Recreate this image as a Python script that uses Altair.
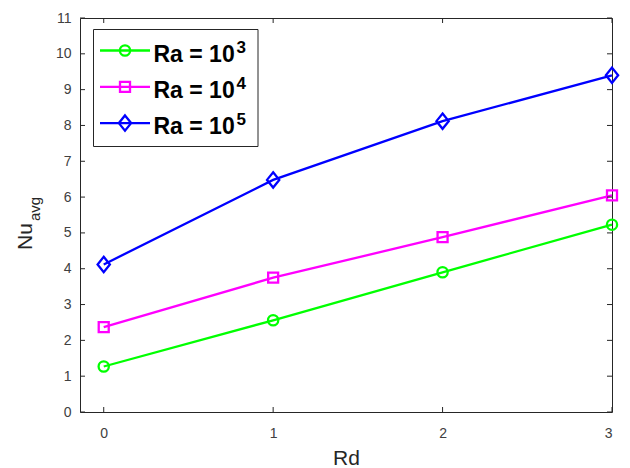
import altair as alt
import pandas as pd

# ---------------- data ----------------
rd = [0, 1, 2, 3]
series_names = ["Ra = 10³", "Ra = 10⁴", "Ra = 10⁵"]
nu_ra3 = [1.27, 2.56, 3.90, 5.23]
nu_ra4 = [2.37, 3.75, 4.88, 6.05]
nu_ra5 = [4.12, 6.48, 8.12, 9.40]
series_colors = ["#00ff00", "#ff00ff", "#0000ff"]
x_ticks = [0, 1, 2, 3]
y_ticks = [0, 1, 2, 3, 4, 5, 6, 7, 8, 9, 10, 11]
legend_base = ["Ra = 10", "Ra = 10", "Ra = 10"]
legend_exp = ["3", "4", "5"]

DIAMOND = "M0,-1L0.8,0L0,1L-0.8,0Z"
marker_shapes = ["circle", "square", DIAMOND]
marker_sizes = [105, 100, 235]

rows = []
for name, vals in zip(series_names, [nu_ra3, nu_ra4, nu_ra5]):
    for x, v in zip(rd, vals):
        rows.append({"Rd": x, "Nu": v, "series": name})
df = pd.DataFrame(rows)

W, H = 532, 394
AX = "#262626"
FONT = "Liberation Sans"
LW = 2.3

xscale = alt.Scale(domain=[-0.14, 3.0], nice=False, zero=False)
yscale = alt.Scale(domain=[0, 11], nice=False, zero=False)
cscale = alt.Scale(domain=series_names, range=series_colors)
xaxis = alt.Axis(values=x_ticks, title="Rd", format="d")
yaxis = alt.Axis(values=y_ticks, title=None, format="d")


def X(field):
    return alt.X(field, scale=xscale, axis=xaxis)


def Y(field):
    return alt.Y(field, scale=yscale, axis=yaxis)


base = alt.Chart(df)

lines = base.mark_line(strokeWidth=LW).encode(
    x=X("Rd:Q"),
    y=Y("Nu:Q"),
    color=alt.Color("series:N", scale=cscale, legend=None),
    detail="series:N",
)

point_layers = []
for name, shp, sz in zip(series_names, marker_shapes, marker_sizes):
    point_layers.append(
        base.transform_filter(alt.datum.series == name)
        .mark_point(shape=shp, filled=False, size=sz, strokeWidth=LW, opacity=1)
        .encode(
            x=X("Rd:Q"),
            y=Y("Nu:Q"),
            color=alt.Color("series:N", scale=cscale, legend=None),
        )
    )

# inward tick marks (MATLAB style box axes); same field names so axes merge
xt = alt.Chart(pd.DataFrame({"Rd": x_ticks}))
yt = alt.Chart(pd.DataFrame({"Nu": y_ticks}))
TL = 5
tick_layers = [
    xt.mark_rule(color=AX, strokeWidth=1).encode(
        x=X("Rd:Q"), y=alt.value(H), y2=alt.value(H - TL)),
    xt.mark_rule(color=AX, strokeWidth=1).encode(
        x=X("Rd:Q"), y=alt.value(0), y2=alt.value(TL)),
    yt.mark_rule(color=AX, strokeWidth=1).encode(
        y=Y("Nu:Q"), x=alt.value(0), x2=alt.value(TL)),
    yt.mark_rule(color=AX, strokeWidth=1).encode(
        y=Y("Nu:Q"), x=alt.value(W - TL), x2=alt.value(W)),
]

one = alt.Chart(pd.DataFrame({"k": [0]}))

# y-axis title with subscript
ytitle = [
    one.mark_text(text="Nu", angle=270, align="left", baseline="alphabetic",
                  font=FONT, fontSize=21, color=AX).encode(
        x=alt.value(-48), y=alt.value(232)),
    one.mark_text(text="avg", angle=270, align="left", baseline="alphabetic",
                  font=FONT, fontSize=15, color=AX).encode(
        x=alt.value(-40), y=alt.value(203)),
]

# legend (drawn manually so exponent can be a real superscript)
legend_layers = [
    one.mark_rect(fill="white", stroke=AX, strokeWidth=1).encode(
        x=alt.value(13.5), x2=alt.value(178), y=alt.value(11.5), y2=alt.value(128.5))
]
LX0, LX1, LMX = 20, 70, 45
for i, (col, shp, sz, bt, ex) in enumerate(
        zip(series_colors, marker_shapes, marker_sizes, legend_base, legend_exp)):
    yy = 32.5 + 36.3 * i
    legend_layers += [
        one.mark_rule(color=col, strokeWidth=LW).encode(
            x=alt.value(LX0), x2=alt.value(LX1), y=alt.value(yy)),
        one.mark_point(shape=shp, filled=False, size=sz, strokeWidth=LW,
                       color=col, opacity=1).encode(
            x=alt.value(LMX), y=alt.value(yy)),
        one.mark_text(text=bt, align="left", baseline="alphabetic", font=FONT,
                      fontSize=23, fontWeight="bold", color="black").encode(
            x=alt.value(73.5), y=alt.value(yy + 11)),
        one.mark_text(text=ex, align="left", baseline="alphabetic", font=FONT,
                      fontSize=17, fontWeight="bold", color="black").encode(
            x=alt.value(156.5), y=alt.value(yy + 2.3)),
    ]

chart = alt.layer(
    lines, *point_layers, *tick_layers, *ytitle, *legend_layers
).properties(
    width=W, height=H,
    autosize=alt.AutoSizeParams(type="none"),
    padding={"left": 80, "top": 18, "right": 18, "bottom": 56},
    background="white",
).configure_view(
    stroke=AX, strokeWidth=1
).configure_axis(
    grid=False, domain=False, ticks=False, tickSize=0,
    labelFont=FONT, labelFontSize=14, labelColor="#404040",
    titleFont=FONT, titleFontSize=21, titleFontWeight="normal", titleColor=AX,
).configure_axisX(
    labelPadding=14, titlePadding=7,
).configure_axisY(
    labelPadding=9,
)

chart.save("out.html", embed_options={"renderer": "svg", "actions": False})
